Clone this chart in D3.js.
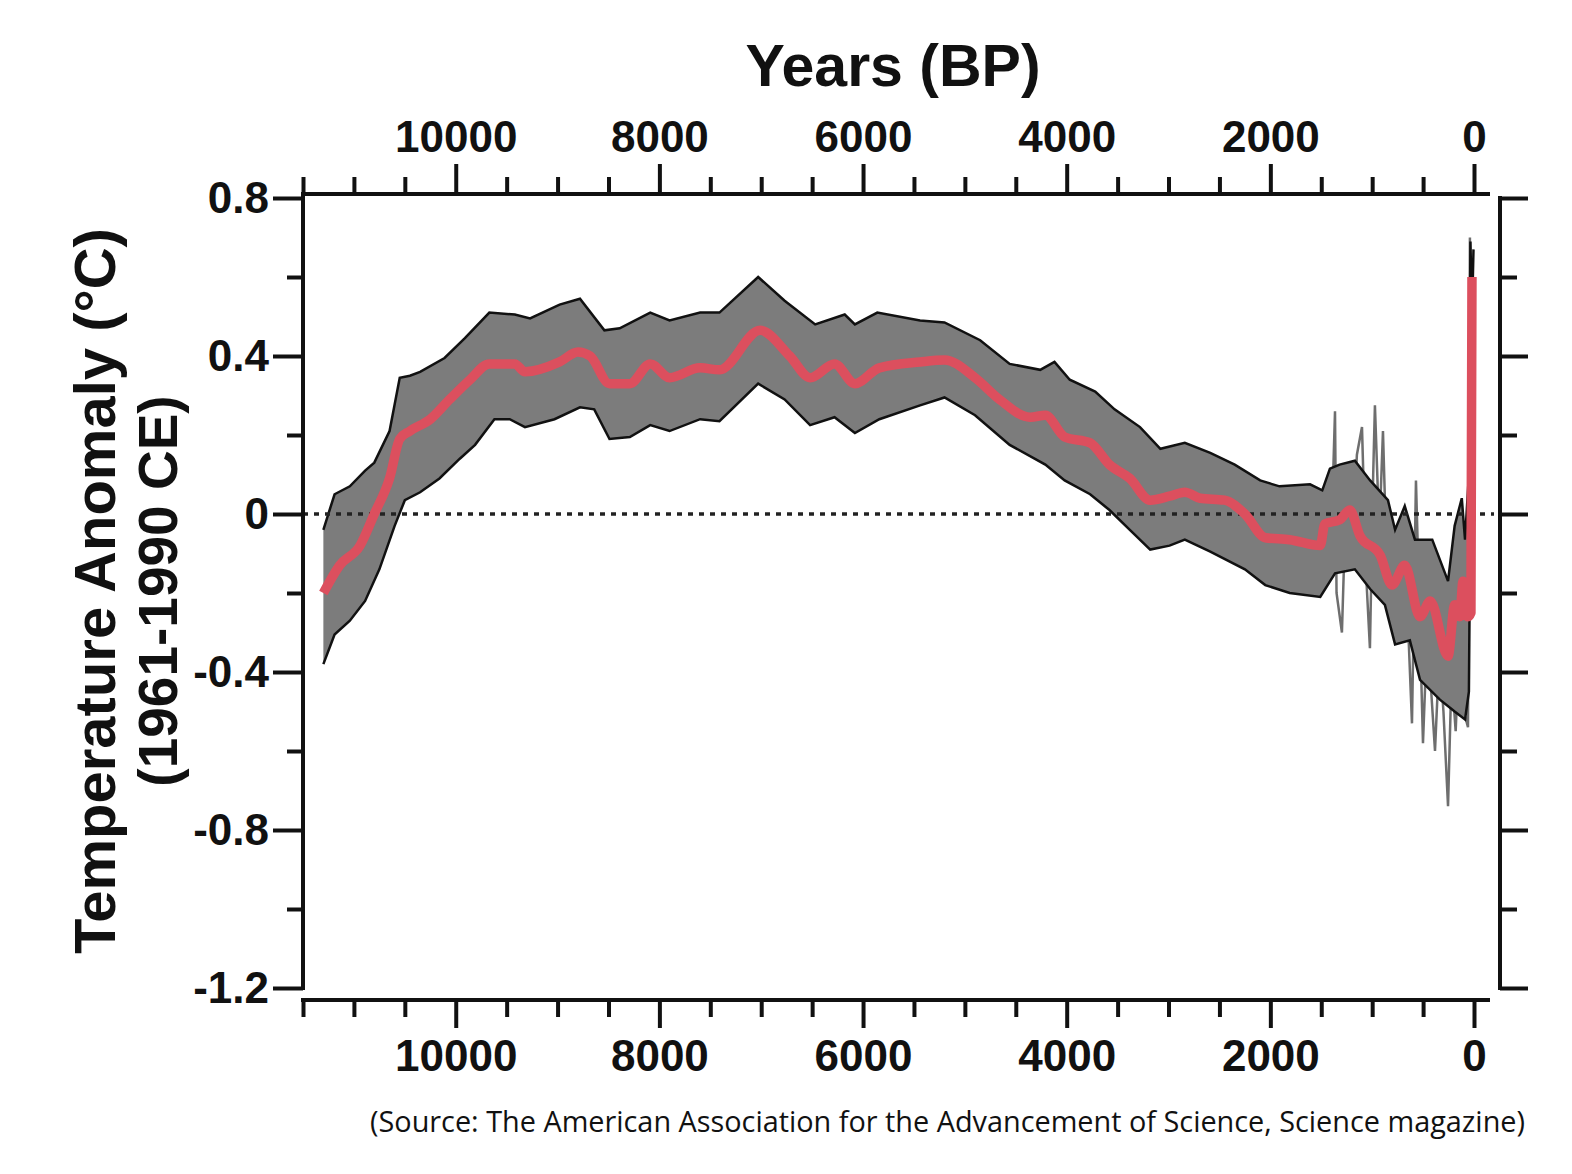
<!DOCTYPE html>
<html>
<head>
<meta charset="utf-8">
<script src="https://cdn.jsdelivr.net/npm/d3@7"></script>
<style>
body{margin:0;background:#fff;}
svg text{font-family:"Liberation Sans",Arial,sans-serif;font-weight:bold;fill:#111;}
</style>
</head>
<body>
<svg></svg>
<script>
//mean reconstruction (red line), years BP and anomaly in degrees C
var meanYears = [11300,11140,10940,10800,10650,10550,10450,10250,10060,9860,9670,9420,9320,8980,8800,8680,8490,8290,8090,7900,7600,7410,7010,6720,6520,6280,6080,5840,5440,5200,4900,4660,4360,4210,4020,3770,3580,3380,3180,2990,2840,2690,2450,2250,2050,1810,1510,1465,1320,1220,1120,920,805,680,530,430,255,190,140,108,60,30,20];
var meanVals = [-0.20,-0.13,-0.08,0.0,0.09,0.19,0.21,0.24,0.29,0.34,0.38,0.38,0.36,0.385,0.41,0.40,0.33,0.33,0.38,0.345,0.37,0.365,0.465,0.40,0.345,0.38,0.33,0.37,0.385,0.39,0.345,0.29,0.245,0.25,0.195,0.18,0.125,0.09,0.035,0.045,0.055,0.04,0.035,0.0,-0.06,-0.065,-0.08,-0.025,-0.015,0.01,-0.055,-0.105,-0.18,-0.13,-0.26,-0.22,-0.36,-0.23,-0.26,-0.17,-0.26,-0.25,0.6];

//upper edge of the uncertainty band
var upperYears = [11300,11190,11040,10890,10800,10650,10550,10450,10350,10110,9910,9670,9420,9270,8980,8780,8540,8390,8090,7900,7600,7410,7030,6770,6470,6180,6080,5860,5440,5200,4850,4560,4260,4120,3970,3720,3530,3280,3080,2840,2590,2350,2100,1910,1610,1490,1415,1320,1170,1020,845,775,680,580,410,255,190,120,88,50,35,20,5];
var upperVals = [-0.04,0.05,0.07,0.11,0.13,0.21,0.345,0.35,0.36,0.395,0.445,0.51,0.505,0.495,0.53,0.545,0.465,0.47,0.51,0.49,0.51,0.51,0.60,0.54,0.48,0.505,0.48,0.51,0.49,0.485,0.44,0.38,0.365,0.385,0.34,0.31,0.265,0.22,0.165,0.18,0.155,0.125,0.085,0.07,0.075,0.06,0.115,0.125,0.135,0.085,0.035,-0.04,0.02,-0.065,-0.065,-0.17,-0.03,0.04,-0.065,0.1,0.69,0.5,0.67];

//lower edge of the uncertainty band
var lowerYears = [11300,11190,11040,10890,10750,10600,10500,10350,10160,9960,9810,9620,9470,9320,9030,8780,8640,8490,8290,8090,7900,7600,7410,7030,6770,6520,6280,6080,5840,5440,5200,4900,4560,4210,4020,3770,3580,3380,3180,2990,2840,2590,2250,2050,1810,1510,1365,1170,1020,875,775,630,530,335,190,88,50,30,10];
var lowerVals = [-0.38,-0.305,-0.27,-0.22,-0.14,-0.03,0.035,0.055,0.09,0.14,0.175,0.24,0.24,0.22,0.24,0.27,0.265,0.19,0.195,0.225,0.21,0.24,0.235,0.33,0.29,0.225,0.245,0.205,0.24,0.275,0.295,0.25,0.175,0.125,0.085,0.05,0.01,-0.04,-0.09,-0.08,-0.065,-0.095,-0.14,-0.18,-0.2,-0.21,-0.15,-0.14,-0.19,-0.23,-0.33,-0.32,-0.42,-0.47,-0.5,-0.52,-0.45,0.2,0.5];

//high resolution record of the last 1500 years (thin grey line)
var fineYears = [1500,1450,1400,1365,1350,1297,1250,1200,1150,1100,1060,1022,990,973,930,894,860,820,780,740,700,660,609,570,540,501,460,420,383,340,300,255,220,180,140,100,59,40];
var fineVals = [-0.1,0.0,-0.05,0.26,-0.2,-0.30,0.1,-0.12,0.15,0.22,-0.15,-0.34,0.1,0.275,-0.05,0.21,-0.1,0.0,-0.25,-0.1,-0.3,-0.2,-0.53,0.085,-0.2,-0.58,-0.3,-0.45,-0.60,-0.35,-0.5,-0.74,-0.4,-0.55,-0.3,-0.5,-0.54,0.7];

//ticks
var xMajorTicks = [10000,8000,6000,4000,2000,0];
var xMinorTicks = [11500,11000,10500,9500,9000,8500,7500,7000,6500,5500,5000,4500,3500,3000,2500,1500,1000,500];
var yMajorTicks = [0.8,0.4,0,-0.4,-0.8,-1.2];
var yMinorTicks = [0.6,0.2,-0.2,-0.6,-1.0];

var toPoints = function(years, vals)
{
    return years.map(function(y, i){ return {year:y, value:vals[i]}; });
}

var styleTicks = function(g)
{
    g.select(".domain").remove();
    g.selectAll("line").attr("stroke","#111").attr("stroke-width",4);
    g.selectAll("text").attr("font-size",44).attr("fill","#111");
}

//plain hyphen for negatives, like the original
var yFormat = function(d)
{
    return d === 0 ? "0" : d.toFixed(1);
}

//draws the four axes round the graph
var drawAxes = function(svg, box, xScale, yScale)
{
    var t = svg.append("g").attr("transform","translate(0,"+box.top+")");
    t.append("g").call(d3.axisTop(xScale).tickValues(xMinorTicks).tickSize(17).tickFormat("")).call(styleTicks);
    t.append("g").call(d3.axisTop(xScale).tickValues(xMajorTicks).tickSize(30).tickPadding(12).tickFormat(d3.format("d"))).call(styleTicks);

    var b = svg.append("g").attr("transform","translate(0,"+box.bottom+")");
    b.append("g").call(d3.axisBottom(xScale).tickValues(xMinorTicks).tickSize(17).tickFormat("")).call(styleTicks);
    b.append("g").call(d3.axisBottom(xScale).tickValues(xMajorTicks).tickSize(28).tickPadding(12).tickFormat(d3.format("d"))).call(styleTicks);

    var l = svg.append("g").attr("transform","translate("+box.left+",0)");
    l.append("g").call(d3.axisLeft(yScale).tickValues(yMinorTicks).tickSize(16).tickFormat("")).call(styleTicks);
    l.append("g").call(d3.axisLeft(yScale).tickValues(yMajorTicks).tickSize(30).tickPadding(4).tickFormat(yFormat)).call(styleTicks);

    var r = svg.append("g").attr("transform","translate("+box.right+",0)");
    r.append("g").call(d3.axisRight(yScale).tickValues(yMinorTicks).tickSize(17).tickFormat("")).call(styleTicks);
    r.append("g").call(d3.axisRight(yScale).tickValues(yMajorTicks).tickSize(28).tickFormat("")).call(styleTicks);

    var yr = yScale.range();
    var xr = xScale.range();
    var frame = svg.append("g").attr("stroke","#111").attr("stroke-width",4).attr("stroke-linecap","square");
    frame.append("line").attr("x1",box.left).attr("x2",box.left).attr("y1",box.top).attr("y2",yr[0]);
    frame.append("line").attr("x1",box.right).attr("x2",box.right).attr("y1",yr[1]).attr("y2",yr[0]);
    frame.append("line").attr("x1",xr[0]).attr("x2",xr[1]+14).attr("y1",box.top).attr("y2",box.top);
    frame.append("line").attr("x1",xr[0]).attr("x2",xr[1]+14).attr("y1",box.bottom).attr("y2",box.bottom);
}

//band, records and zero line
var drawData = function(svg, box, xScale, yScale)
{
    var line = d3.line().x(function(d){ return xScale(d.year); }).y(function(d){ return yScale(d.value); });
    var upper = toPoints(upperYears, upperVals);
    var lower = toPoints(lowerYears, lowerVals);
    var band = upper.concat(lower.slice().reverse());

    svg.append("path").datum(toPoints(fineYears, fineVals))
       .attr("d", line).attr("fill","none").attr("stroke","#6e6e6e").attr("stroke-width",2.5);

    svg.append("path").datum(band).attr("d", line).attr("fill","#7c7c7c").attr("stroke","none");
    svg.append("path").datum(upper).attr("d", line).attr("fill","none").attr("stroke","#111").attr("stroke-width",2.5);
    svg.append("path").datum(lower).attr("d", line).attr("fill","none").attr("stroke","#111").attr("stroke-width",2.5);

    svg.append("line")
       .attr("x1", box.left).attr("x2", box.right - 6)
       .attr("y1", yScale(0)).attr("y2", yScale(0))
       .attr("stroke","#222").attr("stroke-width",3.5).attr("stroke-dasharray","5,6");

    svg.append("path").datum(toPoints(meanYears, meanVals))
       .attr("d", line.curve(d3.curveMonotoneX))
       .attr("fill","none").attr("stroke","#dc4f5e").attr("stroke-width",9.5).attr("stroke-linejoin","round");
}

var drawLabels = function(svg, box)
{
    svg.append("text").attr("x", 893).attr("y", 86).attr("text-anchor","middle")
       .attr("font-size",59).text("Years (BP)");

    var mid = (box.top + box.bottom) / 2 - 6;
    svg.append("text").attr("transform","translate(115,"+mid+") rotate(-90)")
       .attr("text-anchor","middle").attr("font-size",58).text("Temperature Anomaly (°C)");
    svg.append("text").attr("transform","translate(177,"+mid+") rotate(-90)")
       .attr("text-anchor","middle").attr("font-size",55).text("(1961-1990 CE)");

    svg.append("text").attr("x", 370).attr("y", 1132)
       .attr("font-size",30).attr("textLength",1155).attr("lengthAdjust","spacingAndGlyphs")
       .style("font-family","'Open Sans','Noto Sans',sans-serif").style("font-weight","normal")
       .text("(Source: The American Association for the Advancement of Science, Science magazine)");
}

var initGraph = function()
{
    var screen = {width:1572, height:1174};
    var box = {left:303, right:1500, top:194, bottom:1000};

    var svg = d3.select("svg").attr("width",screen.width).attr("height",screen.height);
    svg.append("rect").attr("width",screen.width).attr("height",screen.height).attr("fill","#fff");

    var xScale = d3.scaleLinear().domain([11500,0]).range([303,1474]);
    var yScale = d3.scaleLinear().domain([-1.2,0.8]).range([988,198]);

    drawData(svg, box, xScale, yScale);
    drawAxes(svg, box, xScale, yScale);
    drawLabels(svg, box);
}

initGraph();
</script>
</body>
</html>
